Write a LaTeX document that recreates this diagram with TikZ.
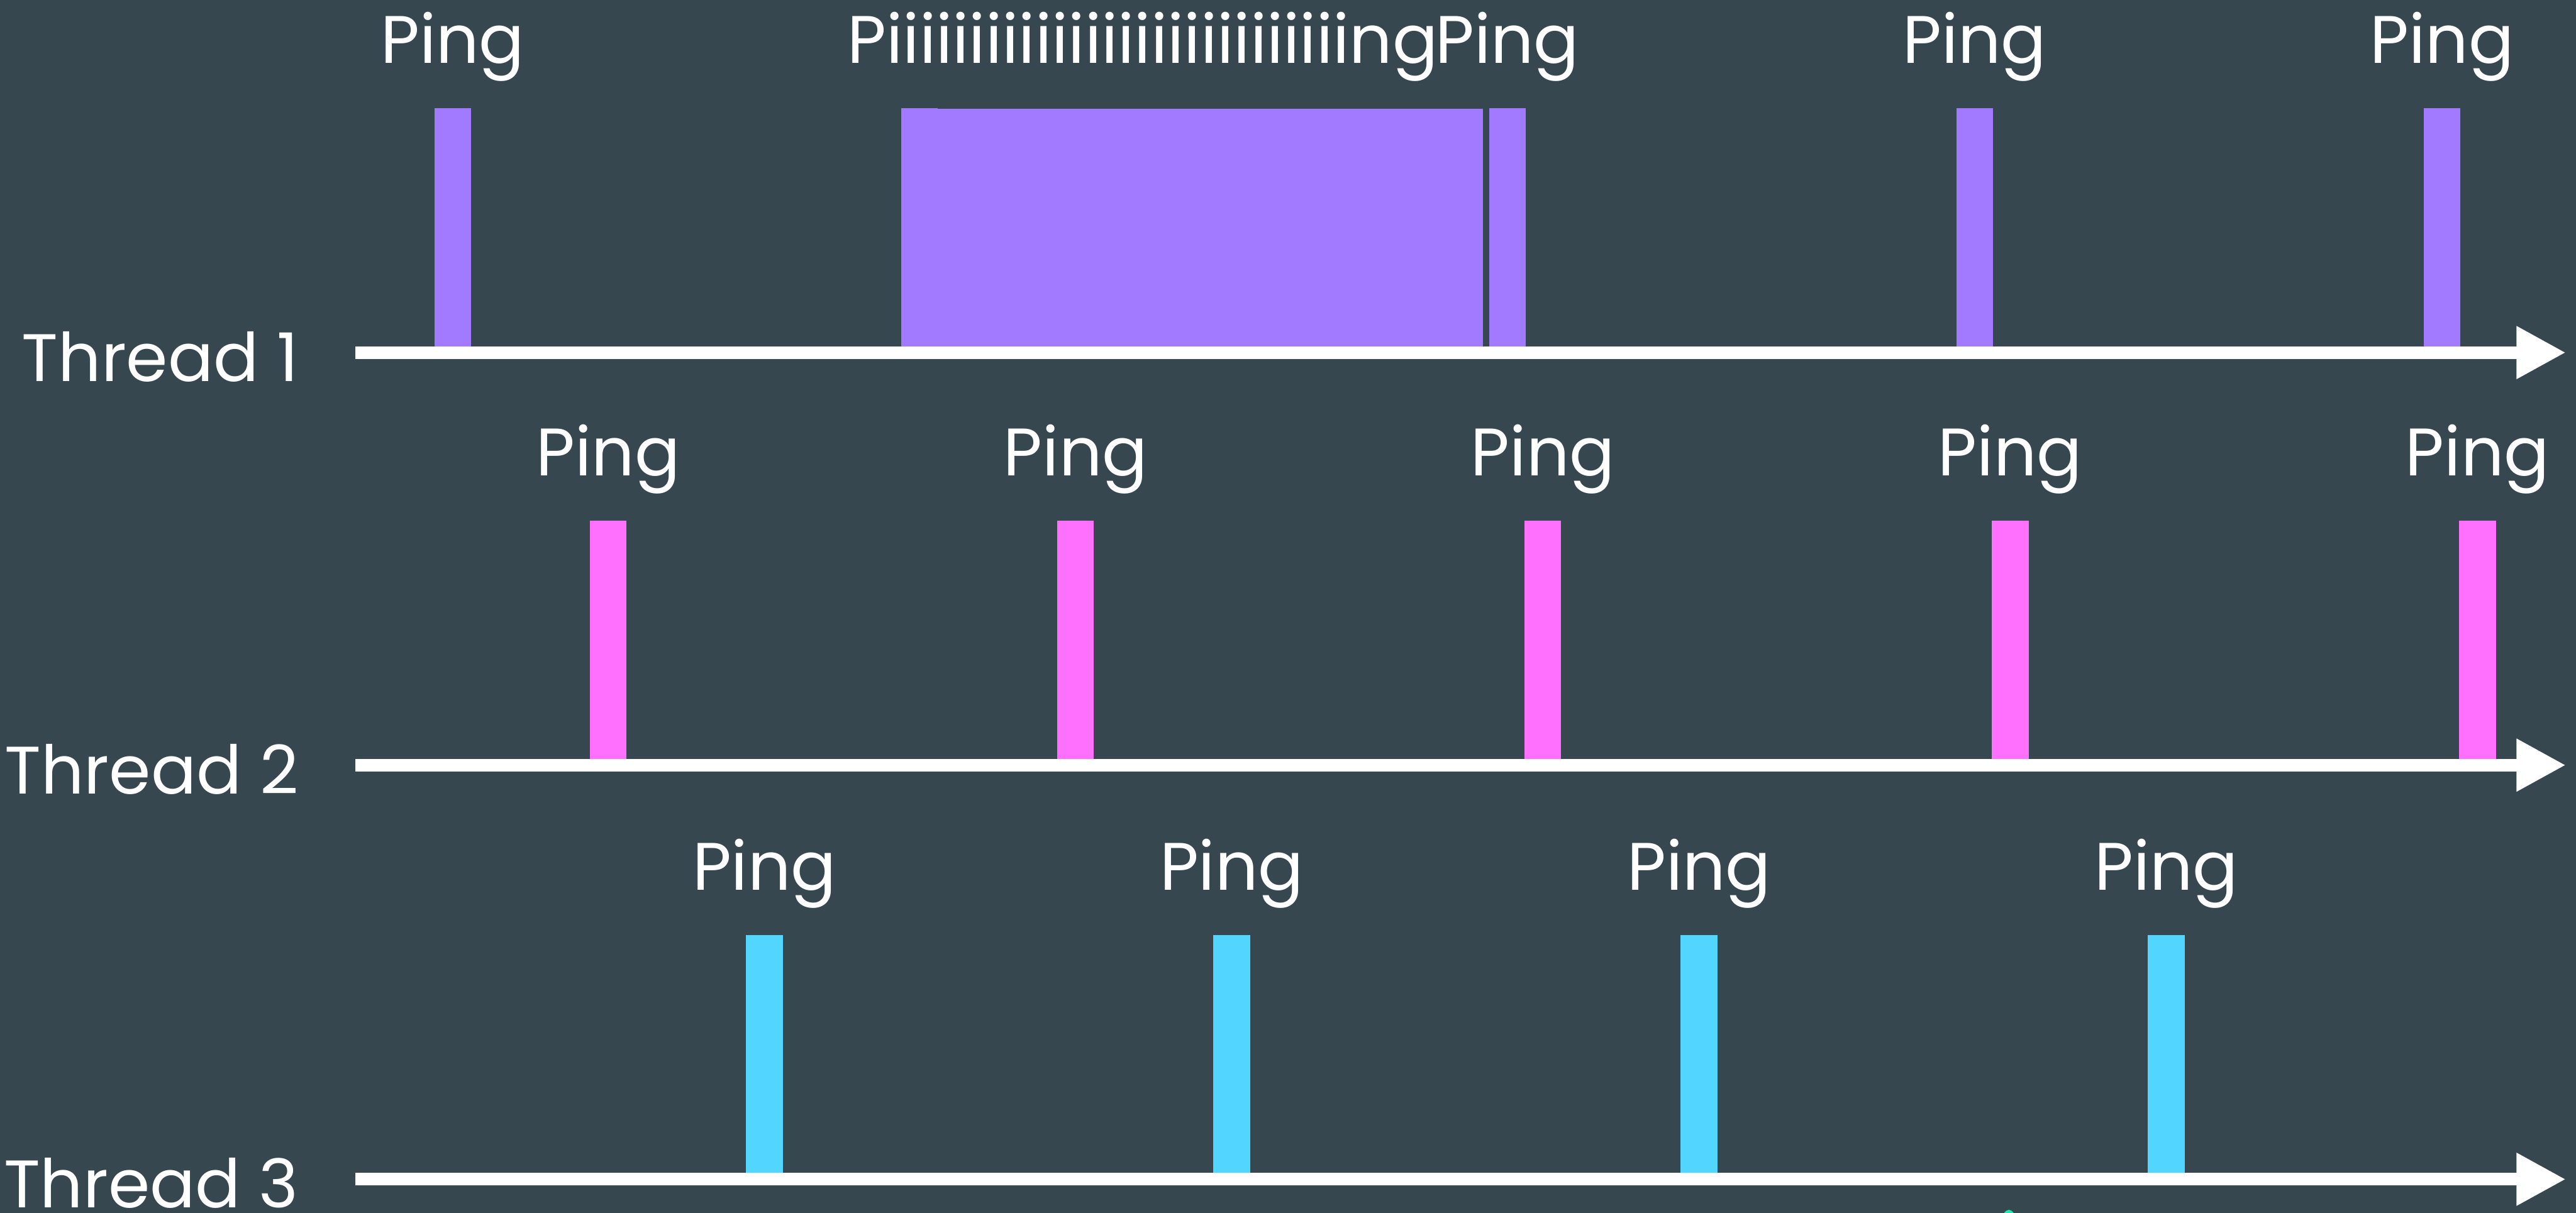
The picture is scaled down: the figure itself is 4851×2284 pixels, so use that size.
\documentclass[tikz,border=0pt]{standalone}
\usepackage{fontspec}
\setmainfont{Poppins}
\usetikzlibrary{arrows.meta}
\definecolor{bg}{HTML}{37474F}
\definecolor{violetbar}{HTML}{A17AFF}
\definecolor{pinkbar}{HTML}{FF70FF}
\definecolor{cyanbar}{HTML}{52D6FF}
\definecolor{greenmark}{HTML}{1DE9B6}
\newcommand{\pingbar}[4]{%
  \fill[#4] (#2,#3-460) rectangle ++(69,460);
  \node[pinglbl] (#1) at (#2+34.5,#3-545) {Ping};
}
\begin{document}
\begin{tikzpicture}[x=0.01cm,y=-0.01cm,
  lbl/.style={text=white, font=\fontsize{36}{42}\selectfont, inner sep=0pt, outer sep=0pt},
  pinglbl/.style={lbl, anchor=base},
  threadlbl/.style={lbl, anchor=base east},
  axisline/.style={white, line width=0.24cm, -{Triangle[length=0.93cm,width=0.93cm]}},
]
\fill[bg] (0,0) rectangle (4851,2284);
\useasboundingbox (0,0) rectangle (4851,2284);
\clip (0,0) rectangle (4851,2284);

% Thread 1
\pingbar{p1a}{818}{664}{violetbar}
\fill[violetbar] (1697,205) rectangle (2793,664);
\fill[violetbar] (1697,204) rectangle ++(69,460);
\node[lbl, anchor=base west] (p1long) at (1596,119) {Piiiiiiiiiiiiiiiiiiiiiiiiiiiing};
\pingbar{p1c}{2804}{664}{violetbar}
\pingbar{p1d}{3684}{664}{violetbar}
\pingbar{p1e}{4564}{664}{violetbar}

% Thread 2
\pingbar{p2a}{1111}{1441}{pinkbar}
\pingbar{p2b}{1991}{1441}{pinkbar}
\pingbar{p2c}{2871}{1441}{pinkbar}
\pingbar{p2d}{3751}{1441}{pinkbar}
\pingbar{p2e}{4631}{1441}{pinkbar}

% Thread 3
\pingbar{p3a}{1405}{2221}{cyanbar}
\pingbar{p3b}{2285}{2221}{cyanbar}
\pingbar{p3c}{3165}{2221}{cyanbar}
\pingbar{p3d}{4045}{2221}{cyanbar}

% axes
\coordinate (a1s) at (669,664);  \coordinate (a1e) at (4832,664);
\coordinate (a2s) at (669,1441); \coordinate (a2e) at (4832,1441);
\coordinate (a3s) at (669,2221); \coordinate (a3e) at (4832,2221);
\draw[axisline] (a1s) -- (a1e);
\draw[axisline] (a2s) -- (a2e);
\draw[axisline] (a3s) -- (a3e);

\node[threadlbl] (th1) at (562,718) {Thread 1};
\node[threadlbl] (th2) at (562,1495) {Thread 2};
\node[threadlbl] (th3) at (562,2275) {Thread 3};

% partial green mark at the bottom edge
\fill[greenmark, rounded corners=4] (3767,2294) -- (3783,2272) -- (3799,2294) -- cycle;
\end{tikzpicture}
\end{document}
